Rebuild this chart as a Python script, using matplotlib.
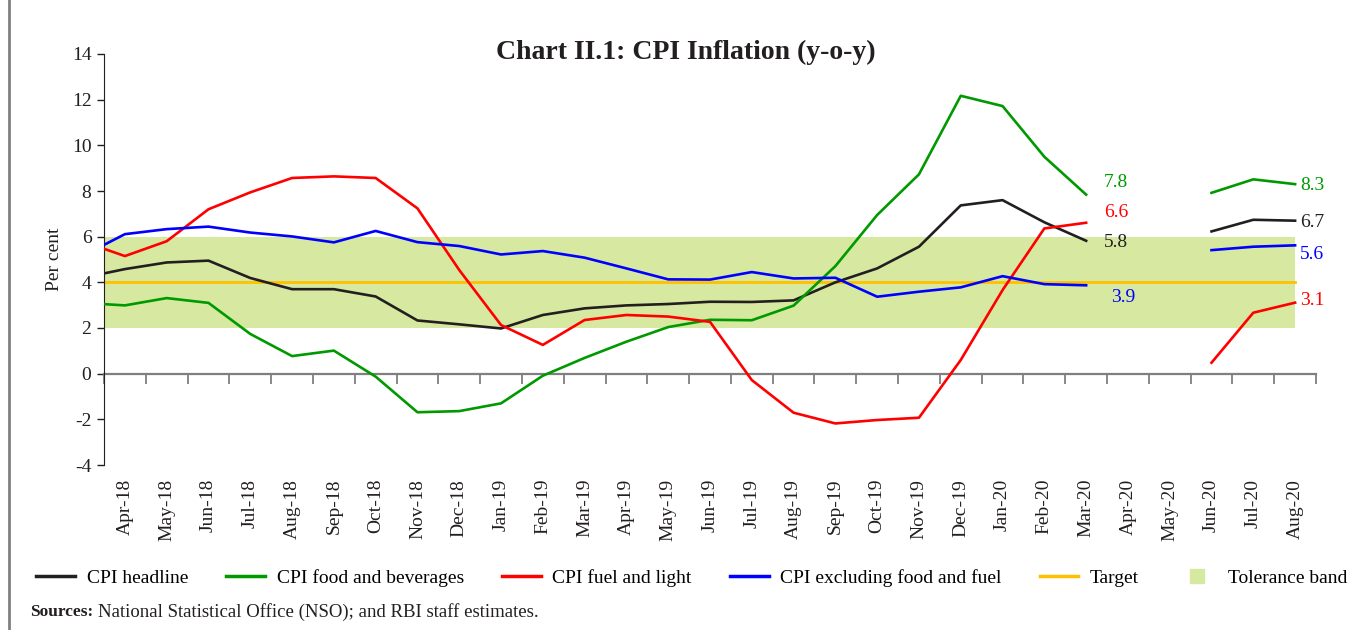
import numpy as np
import matplotlib
matplotlib.use("Agg")
import matplotlib.pyplot as plt
from matplotlib.lines import Line2D

# Mar-18 is only there for the clipped start of each line at the left edge
months = ['Mar-18', 'Apr-18', 'May-18', 'Jun-18', 'Jul-18', 'Aug-18', 'Sep-18', 'Oct-18',
          'Nov-18', 'Dec-18', 'Jan-19', 'Feb-19', 'Mar-19', 'Apr-19', 'May-19', 'Jun-19',
          'Jul-19', 'Aug-19', 'Sep-19', 'Oct-19', 'Nov-19', 'Dec-19', 'Jan-20', 'Feb-20',
          'Mar-20', 'Apr-20', 'May-20', 'Jun-20', 'Jul-20', 'Aug-20']
nan = np.nan
headline = [4.20, 4.58, 4.87, 4.95, 4.19, 3.70, 3.70, 3.38, 2.33, 2.16, 1.98, 2.57, 2.86,
            2.99, 3.05, 3.15, 3.14, 3.21, 4.00, 4.61, 5.56, 7.37, 7.60, 6.63, 5.82,
            nan, nan, 6.23, 6.74, 6.70]
food = [3.10, 2.99, 3.31, 3.10, 1.74, 0.77, 1.01, -0.13, -1.69, -1.64, -1.30, -0.09, 0.69,
        1.40, 2.04, 2.36, 2.34, 2.98, 4.71, 6.95, 8.73, 12.17, 11.72, 9.50, 7.84,
        nan, nan, 7.92, 8.51, 8.30]
fuel = [5.79, 5.15, 5.80, 7.20, 7.94, 8.57, 8.64, 8.57, 7.24, 4.54, 2.13, 1.26, 2.35,
        2.57, 2.50, 2.27, -0.28, -1.71, -2.18, -2.03, -1.93, 0.60, 3.66, 6.36, 6.61,
        nan, nan, 0.48, 2.67, 3.11]
core = [5.17, 6.11, 6.33, 6.44, 6.18, 6.01, 5.75, 6.25, 5.76, 5.59, 5.22, 5.37, 5.08,
        4.61, 4.13, 4.12, 4.45, 4.17, 4.20, 3.37, 3.59, 3.78, 4.27, 3.92, 3.87,
        nan, nan, 5.41, 5.56, 5.62]
target = 4
band_lo, band_hi = 2, 6

C_HEAD = '#231f20'
C_FOOD = '#009900'
C_FUEL = '#ff0000'
C_CORE = '#0000ff'
C_TGT = '#ffc000'
C_BAND = '#d7e9a1'

plt.rcParams['font.family'] = ['Liberation Serif', 'DejaVu Serif']
plt.rcParams['axes.unicode_minus'] = False

fig = plt.figure(figsize=(13.51, 6.30), dpi=100)
ax = fig.add_axes([104/1351, 1 - 465/630, (1316 - 104)/1351, (465 - 54)/630])

x = np.arange(len(months)) - 1

ax.fill_between(x, band_lo, band_hi, color=C_BAND, lw=0, zorder=1)
ax.plot(x, [target]*len(x), color=C_TGT, lw=2.0, zorder=2)

lw = 1.9
ax.plot(x, headline, color=C_HEAD, lw=lw, zorder=4)
ax.plot(x, food, color=C_FOOD, lw=lw, zorder=4)
ax.plot(x, fuel, color=C_FUEL, lw=lw, zorder=4)
ax.plot(x, core, color=C_CORE, lw=lw, zorder=4)

# end-of-segment value labels
i_mar = months.index('Mar-20') - 1
i_aug = months.index('Aug-20') - 1
lab = [
    (food, C_FOOD, i_mar, 30, 12), (fuel, C_FUEL, i_mar, 30, 10),
    (headline, C_HEAD, i_mar, 30, -2), (core, C_CORE, i_mar, 37, -12),
    (food, C_FOOD, i_aug, 17, -1), (headline, C_HEAD, i_aug, 17, -2),
    (core, C_CORE, i_aug, 17, -9), (fuel, C_FUEL, i_aug, 17, 2),
]
for s, c, i, dx, dy in lab:
    v = s[i + 1]
    ax.annotate(f'{v:.1f}', xy=(i, v), xytext=(dx, dy), textcoords='offset pixels',
                color=c, fontsize=14, ha='center', va='center')

ax.set_xlim(-0.5, 28.5)
ax.set_ylim(-4, 14)
ax.set_yticks(np.arange(-4, 15, 2))
ax.tick_params(axis='y', direction='out', length=5, width=1, labelsize=14, pad=4,
               colors='#231f20')
ax.set_ylabel('Per cent', fontsize=14, labelpad=6, color='#231f20')

for s in ['top', 'right']:
    ax.spines[s].set_visible(False)
ax.spines['left'].set_color('#231f20')

# zero line carries tick marks between months
ax.spines['bottom'].set_position(('data', 0))
ax.spines['bottom'].set_color('#7f7f7f')
ax.spines['bottom'].set_linewidth(1.6)
ax.spines['bottom'].set_zorder(2)
ax.set_xticks(np.arange(-0.5, 29, 1))
ax.set_xticklabels([])
ax.tick_params(axis='x', direction='out', length=7, width=1.3, color='#7f7f7f')

sec = ax.secondary_xaxis(0)
sec.set_xticks(np.arange(0, 29), labels=months[1:], rotation=90)
sec.tick_params(length=0, labelsize=14, pad=10, colors='#231f20')
sec.spines['bottom'].set_visible(False)

fig.text(686/1351, 1 - 52/630, 'Chart II.1: CPI Inflation (y-o-y)', fontsize=20,
         fontweight='bold', color='#231f20', ha='center', va='center')

handles = [
    Line2D([], [], color=C_HEAD, lw=2.5),
    Line2D([], [], color=C_FOOD, lw=2.5),
    Line2D([], [], color=C_FUEL, lw=2.5),
    Line2D([], [], color=C_CORE, lw=2.5),
    Line2D([], [], color=C_TGT, lw=2.5),
    Line2D([], [], color=C_BAND, marker='s', ls='none', markersize=10),
]
names = ['CPI headline', 'CPI food and beverages', 'CPI fuel and light',
         'CPI excluding food and fuel', 'Target', 'Tolerance band']
fig.legend(handles, names, loc='center', bbox_to_anchor=(0.512, 1 - 578/630), ncol=6,
           frameon=False, fontsize=14, handlelength=2.0, handletextpad=0.6,
           columnspacing=1.95)

fig.text(30/1351, 1 - 612/630, 'Sources:', fontsize=12.5, fontweight='bold',
         color='#231f20', va='center')
fig.text(98/1351, 1 - 612/630, 'National Statistical Office (NSO); and RBI staff estimates.',
         fontsize=13.5, color='#231f20', va='center')

fig.add_artist(Line2D([9/1351, 9/1351], [0, 1], transform=fig.transFigure,
                      color='#808080', lw=2))

fig.savefig('out.png', dpi=100)
